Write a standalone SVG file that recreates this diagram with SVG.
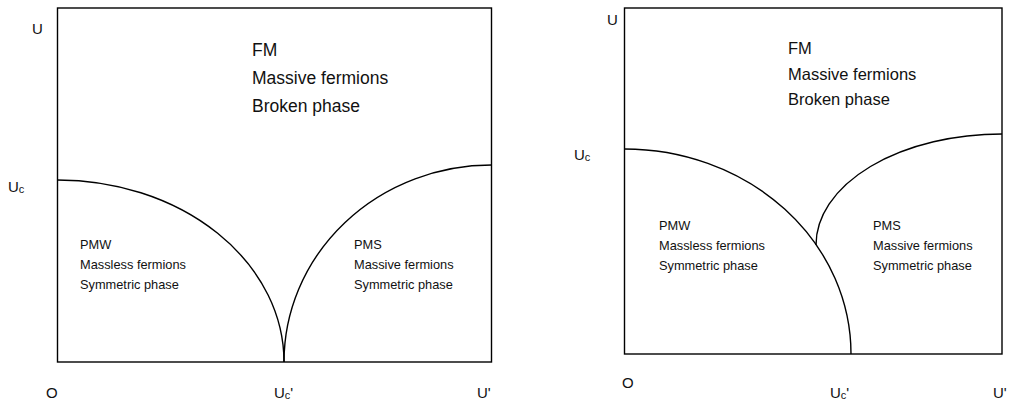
<svg xmlns="http://www.w3.org/2000/svg" width="1010" height="403" viewBox="0 0 1010 403">
<style>
text{font-family:"Liberation Sans",Arial,sans-serif;fill:#111}
.ax{font-size:15px}
.sub{font-size:11px}
.big{font-size:17.5px}
.big2{font-size:16.5px}
.sm{font-size:12.8px}
.frame{fill:none;stroke:#000;stroke-width:1.4}
.curve{fill:none;stroke:#000;stroke-width:1.4}
</style>
<rect width="1010" height="403" fill="#fff"/>
<g id="left-panel">
  <rect class="frame" x="57.5" y="8" width="434" height="354"/>
  <g id="left-boundaries">
    <path class="curve" d="M57.5,180 A226.5,182 0 0 1 284,362"/>
    <path class="curve" d="M284,362 A207.5,197 0 0 1 491.5,165"/>
  </g>
  <text class="ax" x="32" y="34">U</text>
  <text class="ax" x="8" y="192">U<tspan class="sub" dy="1">c</tspan></text>
  <text class="ax" x="46" y="398">O</text>
  <text class="ax" x="274" y="398">U<tspan class="sub" dy="1">c</tspan><tspan dy="-1">'</tspan></text>
  <text class="ax" x="477" y="398">U'</text>
  <g id="left-fm">
    <text class="big" x="252" y="56">FM</text>
    <text class="big" x="252" y="84">Massive fermions</text>
    <text class="big" x="252" y="112">Broken phase</text>
  </g>
  <g id="left-pmw">
    <text class="sm" x="80" y="249">PMW</text>
    <text class="sm" x="80" y="269">Massless fermions</text>
    <text class="sm" x="80" y="289">Symmetric phase</text>
  </g>
  <g id="left-pms">
    <text class="sm" x="354" y="249">PMS</text>
    <text class="sm" x="354" y="269">Massive fermions</text>
    <text class="sm" x="354" y="289">Symmetric phase</text>
  </g>
</g>
<g id="right-panel">
  <rect class="frame" x="624.5" y="8" width="377.5" height="346"/>
  <g id="right-boundaries">
    <path class="curve" d="M624.5,149 A226.5,205 0 0 1 851,354"/>
    <path class="curve" d="M816,245 A186,111 0 0 1 1002,134"/>
  </g>
  <text class="ax" x="607" y="25">U</text>
  <text class="ax" x="574" y="160">U<tspan class="sub" dy="1">c</tspan></text>
  <text class="ax" x="622" y="388">O</text>
  <text class="ax" x="830" y="398">U<tspan class="sub" dy="1">c</tspan><tspan dy="-1">'</tspan></text>
  <text class="ax" x="993" y="398">U'</text>
  <g id="right-fm">
    <text class="big2" x="788" y="54">FM</text>
    <text class="big2" x="788" y="80">Massive fermions</text>
    <text class="big2" x="788" y="105">Broken phase</text>
  </g>
  <g id="right-pmw">
    <text class="sm" x="659" y="230">PMW</text>
    <text class="sm" x="659" y="250">Massless fermions</text>
    <text class="sm" x="659" y="270">Symmetric phase</text>
  </g>
  <g id="right-pms">
    <text class="sm" x="873" y="230">PMS</text>
    <text class="sm" x="873" y="250">Massive fermions</text>
    <text class="sm" x="873" y="270">Symmetric phase</text>
  </g>
</g>
</svg>
